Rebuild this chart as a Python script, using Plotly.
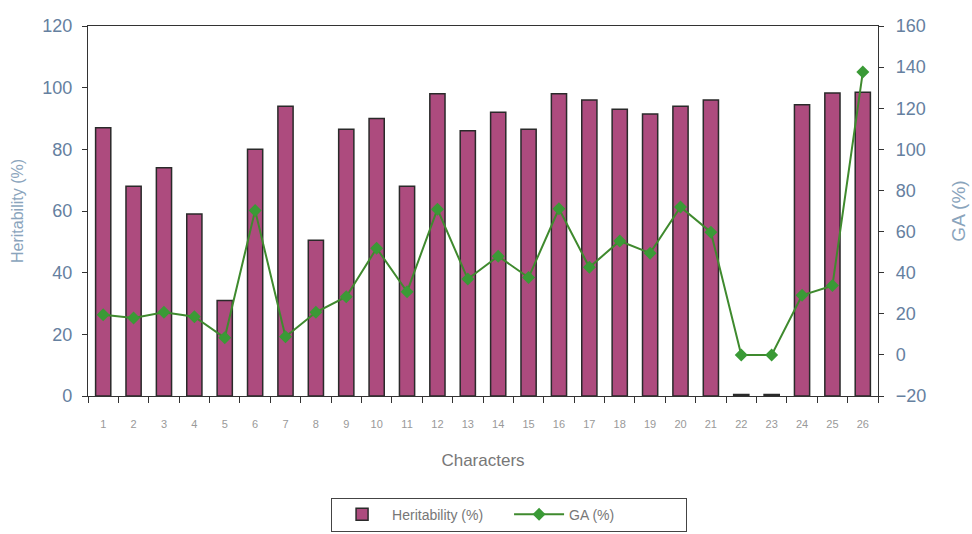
import plotly.graph_objects as go

# Characters 1..26
characters = [str(i) for i in range(1, 27)]

# Heritability (%) for each character
heritability = [87, 68, 74, 59, 31, 80, 94, 50.5, 86.5, 90, 68, 98, 86,
                92, 86.5, 98, 96, 93, 91.5, 94, 96, 0.5, 0.5, 94.5, 98.3, 98.5]

# Genetic advance, GA (%)
ga = [19.5, 18, 20.7, 18.6, 8.3, 70.3, 8.8, 20.7, 28.3, 51.9, 30.7, 70.9, 36.9,
      48, 37.6, 71.1, 42.6, 55.4, 49.5, 72, 59.7, 0, 0, 29, 33.7, 137.6]

left_ticks = [0, 20, 40, 60, 80, 100, 120]
right_ticks = [-20, 0, 20, 40, 60, 80, 100, 120, 140, 160]

BAR_FILL = "#ad4b7e"
GREEN = "#3f8a2e"
TICK_COLOR = "#6580a0"
FONT = "Liberation Sans, Arial, sans-serif"

fig = go.Figure()

fig.add_trace(go.Bar(
    x=characters, y=heritability, name="Heritability (%)",
    marker=dict(color=BAR_FILL, line=dict(color="#2a2a2a", width=1.5)),
    yaxis="y",
))

fig.add_trace(go.Scatter(
    x=characters, y=ga, name="GA (%)", mode="lines+markers",
    line=dict(color=GREEN, width=2),
    marker=dict(symbol="diamond", size=10, color="#3a9a36"),
    yaxis="y2",
))

fig.update_layout(
    width=972, height=534,
    margin=dict(l=88, r=94, t=26, b=138, autoexpand=False),
    paper_bgcolor="white", plot_bgcolor="white",
    font=dict(family=FONT),
    bargap=0.5,
    showlegend=True,
    legend=dict(
        orientation="h", x=0.533, xanchor="center", y=-0.275, yanchor="top",
        bordercolor="#444", borderwidth=1,
        font=dict(size=14, color="#777"),
        itemwidth=50, entrywidth=112,
    ),
    xaxis=dict(
        type="category", tickvals=characters, ticktext=characters,
        range=[-0.5, 25.5],
        tickson="boundaries", ticks="outside", ticklen=6, tickcolor="#333",
        showline=True, linecolor="#333", linewidth=1, mirror=True,
        showgrid=False,
        tickfont=dict(size=11, color="#999"),
        ticklabelstandoff=18,
        title=dict(text="Characters", font=dict(size=17, color="#777"), standoff=24),
    ),
    yaxis=dict(
        range=[0, 120], tickvals=left_ticks,
        ticks="outside", ticklen=5, tickcolor="#333",
        showline=True, linecolor="#333", linewidth=1.2,
        showgrid=False, zeroline=False,
        tickfont=dict(size=18, color=TICK_COLOR),
        ticklabelstandoff=6,
        title=dict(text="Heritability (%)", font=dict(size=16, color="#8aa4bc"), standoff=14),
    ),
    yaxis2=dict(
        range=[-20, 160], tickvals=right_ticks,
        overlaying="y", side="right",
        ticks="outside", ticklen=5, tickcolor="#333",
        showline=True, linecolor="#333", linewidth=1.2,
        showgrid=False, zeroline=False,
        tickfont=dict(size=18, color=TICK_COLOR),
        ticklabelstandoff=8,
        title=dict(text="GA (%)", font=dict(size=19, color="#8aa4bc"), standoff=26),
    ),
)

fig.write_html("out.html")
